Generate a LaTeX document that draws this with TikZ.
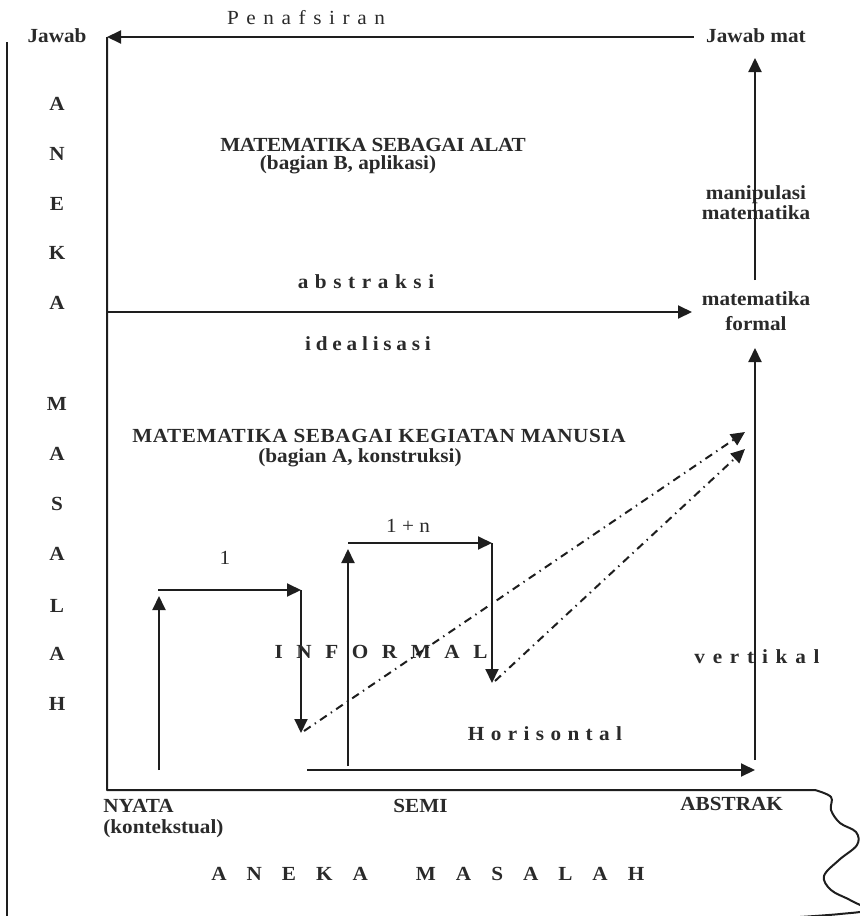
\documentclass[tikz,border=0pt]{standalone}
\usepackage{fontspec}
\setmainfont[FakeStretch=1.06]{Liberation Serif}
\usetikzlibrary{arrows.meta}
\definecolor{rmline}{HTML}{1E1E1E}
\definecolor{rmtext}{HTML}{2A2A2A}
\tikzset{
  every picture/.style={line join=round},
  edge/.style={draw=rmline, line width=1pt},
  flow/.style={edge, -{Triangle[length=7pt, width=6.5pt]}},
  route/.style={flow, dash pattern=on 4pt off 2.5pt on 0.7pt off 2.5pt},
  lbl/.style={font=\fontsize{10}{12}\selectfont\bfseries, text=rmtext, inner sep=0pt},
  title/.style={lbl, anchor=base},
  lefttxt/.style={lbl, anchor=base west},
  spaced/.style={lbl, anchor=base,
    font={\fontsize{10}{12}\selectfont\bfseries\addfontfeature{LetterSpace=#1}}},
  thin/.style={lbl, anchor=base, font=\fontsize{10}{12}\selectfont},
  thinspaced/.style={thin,
    font={\fontsize{10}{12}\selectfont\addfontfeature{LetterSpace=#1}}},
}

\begin{document}
\begin{tikzpicture}[x=0.5pt, y=-0.5pt]
\useasboundingbox (0,0) rectangle (860,916);

% ---- Frame: the problem column on the left, the box and its wavy bottom
\coordinate (outtop) at (7,42);
\coordinate (outbot) at (7,920);
\coordinate (tl) at (107,37);
\coordinate (bl) at (107,790);
\draw[edge] (outtop) -- (outbot);
\draw[edge] (tl) -- (bl) -- (815,790) -- plot[smooth, tension=0.6] coordinates
  {(815,790) (831,797) (831,810) (840,823) (856,832) (857,845) (839,860)
   (824,876) (831,890) (850,900) (866,910) (840,914) (800,917)};

% ---- Answers at the top
\node[title] (jawab) at (57,42) {Jawab};
\node[title, inner xsep=6pt] (jawabmat) at (756,42) {Jawab mat};
\node[thinspaced=38] (penaf) at (306,24) {Penafsiran};
\draw[flow] (jawabmat.west |- tl) -- (tl);

% ---- ANEKA MASALAH down the left side
\node[title] (la1) at (57,110) {A};
\node[title] (la2) at (57,160) {N};
\node[title] (la3) at (57,210) {E};
\node[title] (la4) at (57,259) {K};
\node[title] (la5) at (57,309) {A};
\node[title] (lm1) at (57,410) {M};
\node[title] (lm2) at (57,460) {A};
\node[title] (lm3) at (57,510) {S};
\node[title] (lm4) at (57,560) {A};
\node[title] (lm5) at (57,612) {L};
\node[title] (lm6) at (57,660) {A};
\node[title] (lm7) at (57,710) {H};

% ---- Part B: mathematics as a tool
\node[spaced=-2] (alat) at (373,151) {MATEMATIKA SEBAGAI ALAT};
\node[title] (alatb) at (348,169) {(bagian B, aplikasi)};
\node[title] (manip)  at (756,199) {manipulasi};
\node[title] (manip2) at (756,219) {matematika};
\coordinate (formtop) at (755,280);
\coordinate (mattip) at (755,58);
\draw[flow] (formtop) -- (mattip);

% ---- Abstraction line
\node[title] (mform)  at (756,305) {matematika};
\node[title] (mform2) at (756,330) {formal};
\node[spaced=33] (abst)  at (366,288) {abstraksi};
\node[spaced=24] (ideal) at (368,350) {idealisasi};
\coordinate (abstl) at (107,312);
\coordinate (abstr) at (692,312);
\draw[flow] (abstl) -- (abstr);

% ---- Part A: mathematics as a human activity
\node[spaced=3] (manus) at (379,442) {MATEMATIKA SEBAGAI KEGIATAN MANUSIA};
\node[title] (manusb) at (360,462) {(bagian A, konstruksi)};

% first step
\node[thin] (one) at (225,564) {1};
\coordinate (s1a) at (159,770);
\coordinate (s1b) at (159,596);
\coordinate (s1c) at (158,590);
\coordinate (s1d) at (301,590);
\coordinate (s1e) at (301,733);
\draw[flow] (s1a) -- (s1b);
\draw[flow] (s1c) -- (s1d);
\draw[flow] (s1d) -- (s1e);

% step 1 + n
\node[thin] (onen) at (408,532) {1 + n};
\coordinate (s2a) at (348,766);
\coordinate (s2b) at (348,549);
\coordinate (s2c) at (348,543);
\coordinate (s2d) at (492,543);
\coordinate (s2e) at (492,683);
\draw[flow] (s2a) -- (s2b);
\draw[flow] (s2c) -- (s2d);
\draw[flow] (s2d) -- (s2e);

% informal routes up to formal mathematics
\node[spaced=68] (informal) at (381,658) {INFORMAL};
\coordinate (r1) at (745,432);
\coordinate (r2) at (745,449);
\draw[route] ([shift={(3,-2)}]s1e) -- (r1);
\draw[route] ([shift={(3,-2)}]s2e) -- (r2);

% ---- Horizontal and vertical mathematisation
\node[spaced=32] (hori)  at (545,740) {Horisontal};
\node[spaced=39] (verti) at (757,663) {vertikal};
\coordinate (hl) at (307,770);
\coordinate (hr) at (755,770);
\coordinate (vb) at (755,760);
\coordinate (vt) at (755,348);
\draw[flow] (hl) -- (hr);
\draw[flow] (vb) -- (vt);

% ---- Levels along the bottom
\node[lefttxt] (nyata)   at (103,812) {NYATA};
\node[lefttxt] (konteks) at (103,833) {(kontekstual)};
\node[lefttxt] (semi)    at (393,812) {SEMI};
\node[lefttxt] (abstrak) at (680,810) {ABSTRAK};
\node[spaced=100, anchor=base west] (aneka) at (211,880) {ANEKA\hspace{24pt}MASALAH};

\end{tikzpicture}
\end{document}
